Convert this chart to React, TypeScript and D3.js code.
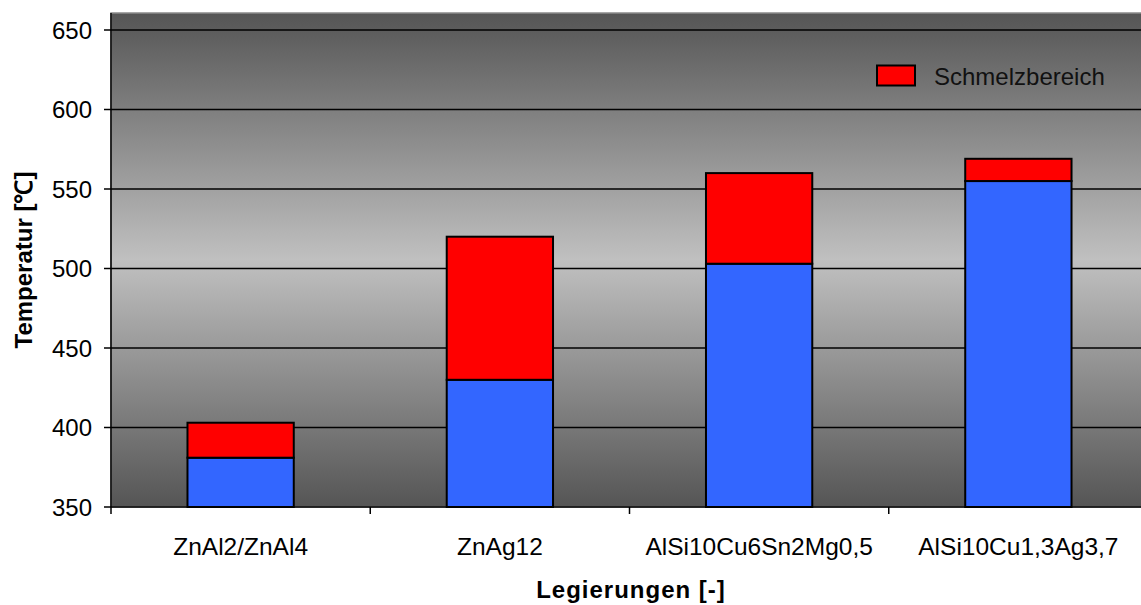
import React from "react";
import * as d3 from "d3";

const categories = ["ZnAl2/ZnAl4", "ZnAg12", "AlSi10Cu6Sn2Mg0,5", "AlSi10Cu1,3Ag3,7"];
const solidus = [381, 430, 503, 555];
const liquidus = [403, 520, 560, 569];
const yTicks = [350, 400, 450, 500, 550, 600, 650];
const legendLabel = "Schmelzbereich";
const yTitle = "Temperatur [℃]";
const xTitle = "Legierungen [-]";

const W = 1141;
const H = 605;
const left = 111;
const right = 1148;
const top = 13;
const bottom = 507;
const FONT = "'Liberation Sans', Arial, sans-serif";

export default function App() {
  const x = d3.scaleBand<string>().domain(categories).range([left, right]).padding(0);
  const y = d3.scaleLinear().domain([350, 650]).range([bottom, 30]);
  const bw = x.bandwidth() * 0.41;
  const boundaries = categories.map((c) => x(c) as number).concat([right]);

  return (
    <div style={{ position: "fixed", left: 0, top: 0 }}>
      <svg width={W} height={H} style={{ display: "block", background: "#fff" }}>
        <defs>
          <linearGradient id="bg" x1="0" y1="0" x2="0" y2="1">
            <stop offset="0" stopColor="#555555" />
            <stop offset="0.5" stopColor="#c0c0c0" />
            <stop offset="1" stopColor="#555555" />
          </linearGradient>
        </defs>
        <rect x={left} y={top} width={right - left} height={bottom - top} fill="url(#bg)" stroke="#8a8a8a" strokeWidth={1.5} />
        {yTicks.filter((t) => t > 350).map((t) => (
          <line key={t} x1={left} x2={right} y1={y(t)} y2={y(t)} stroke="#000" strokeWidth={1.5} />
        ))}
        {categories.map((c, i) => {
          const cx = (x(c) as number) + x.bandwidth() / 2;
          return (
            <g key={c}>
              <rect x={cx - bw / 2} y={y(solidus[i])} width={bw} height={y(350) - y(solidus[i])} fill="#3366FF" stroke="#000" strokeWidth={2} />
              <rect x={cx - bw / 2} y={y(liquidus[i])} width={bw} height={y(solidus[i]) - y(liquidus[i])} fill="#FF0000" stroke="#000" strokeWidth={2} />
            </g>
          );
        })}
        {/* axes */}
        <line x1={left} x2={left} y1={top} y2={bottom} stroke="#000" strokeWidth={1.5} />
        <line x1={left} x2={right} y1={bottom} y2={bottom} stroke="#000" strokeWidth={1.5} />
        {yTicks.map((t) => (
          <g key={t}>
            <line x1={left - 7} x2={left} y1={y(t)} y2={y(t)} stroke="#000" strokeWidth={1.5} />
            <text x={92} y={y(t)} dy="0.36em" textAnchor="end" fontFamily={FONT} fontSize={24} fill="#000">
              {t}
            </text>
          </g>
        ))}
        {boundaries.map((b, i) => (
          <line key={i} x1={b} x2={b} y1={bottom} y2={bottom + 7} stroke="#000" strokeWidth={1.5} />
        ))}
        {categories.map((c) => (
          <text key={c} x={(x(c) as number) + x.bandwidth() / 2} y={555} textAnchor="middle" fontFamily={FONT} fontSize={24.5} fill="#000">
            {c}
          </text>
        ))}
        <text x={631} y={598} textAnchor="middle" fontFamily={FONT} fontSize={24} fontWeight="bold" letterSpacing={1} fill="#000">
          {xTitle}
        </text>
        <text transform={`translate(32, ${(top + bottom) / 2}) rotate(-90)`} textAnchor="middle" fontFamily={FONT} fontSize={24} fontWeight="bold" fill="#000">
          {yTitle}
        </text>
        {/* legend */}
        <rect x={877} y={65.5} width={38} height={20} fill="#FF0000" stroke="#000" strokeWidth={2} />
        <text x={934} y={85} fontFamily={FONT} fontSize={24} fill="#111">
          {legendLabel}
        </text>
      </svg>
    </div>
  );
}
